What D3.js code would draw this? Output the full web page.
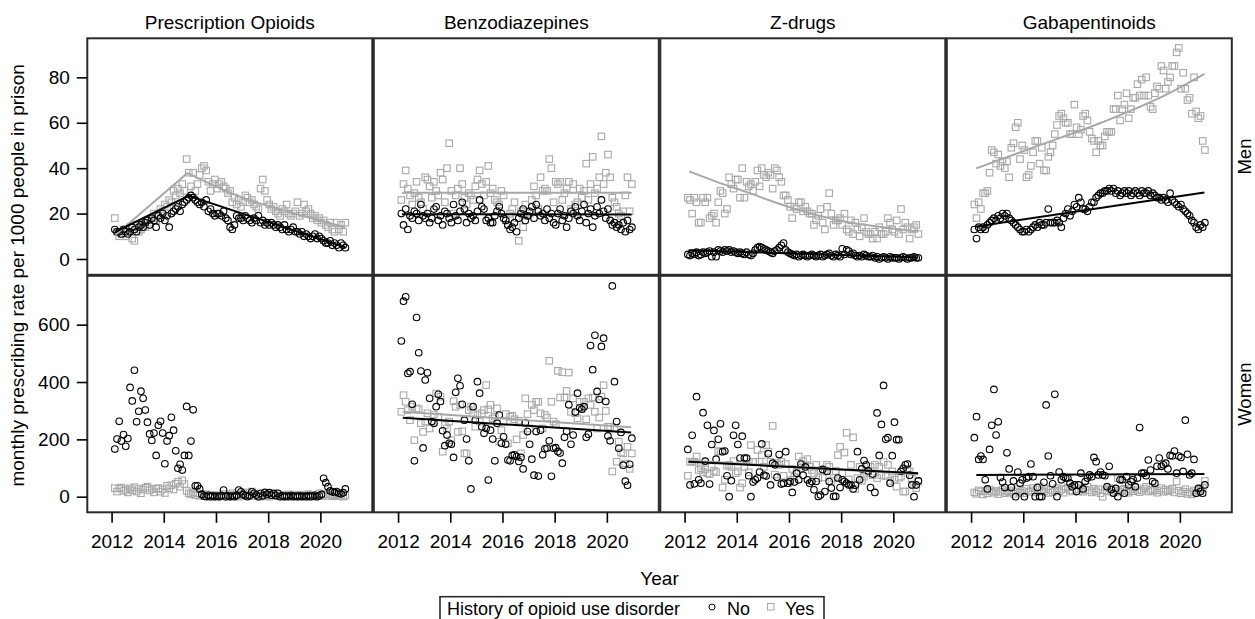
<!DOCTYPE html>
<html>
<head>
<meta charset="utf-8">
<script src="https://cdn.jsdelivr.net/npm/d3@7"></script>
<style>
  body { margin: 0; background: #fff; }
  svg { display: block; }
  text { font-family: "Liberation Sans", Arial, sans-serif; fill: #000; }
</style>
</head>
<body>
<svg width="1255" height="619"></svg>
<script>
// ---- data (monthly rates, Feb 2012 .. Dec 2020)
const drugs = ['Prescription Opioids', 'Benzodiazepines', 'Z-drugs', 'Gabapentinoids'];
const sexes = ['Men', 'Women'];
const firstMonth = 2012.125;
const xTicks = [2012, 2014, 2016, 2018, 2020];
const yTicksMen = [0, 20, 40, 60, 80];
const yTicksWomen = [0, 200, 400, 600];

const opioidsMenNo = [
  13, 12, 12, 11, 13, 12, 11, 12, 14, 13, 12, 14,
  15, 14, 16, 17, 15, 18, 17, 14, 19, 18, 20, 17,
  19, 14, 20, 21, 22, 23, 21, 24, 25, 26, 27, 28,
  27, 26, 25, 24, 25, 23, 26, 21, 22, 20, 19, 20,
  20, 19, 21, 18, 17, 14, 13, 15, 19, 18, 18, 17,
  19, 18, 17, 16, 18, 17, 19, 16, 17, 15, 16, 15,
  16, 15, 14, 15, 14, 13, 15, 13, 12, 13, 14, 12,
  12, 11, 12, 10, 11, 10, 9, 10, 11, 9, 10, 9,
  8, 7, 7, 8, 6, 7, 6, 5, 7, 6, 5];
const opioidsMenYes = [
  18, 12, 10, 11, 13, 10, 12, 14, 9, 8, 15, 12,
  13, 15, 14, 17, 16, 18, 20, 17, 19, 22, 21, 24,
  23, 26, 25, 30, 28, 31, 29, 33, 30, 44, 38, 32,
  38, 30, 33, 37, 40, 41, 39, 34, 30, 33, 35, 31,
  33, 34, 32, 31, 29, 30, 25, 27, 24, 26, 23, 25,
  28, 27, 25, 26, 24, 23, 22, 31, 35, 30, 26, 24,
  22, 23, 21, 20, 19, 22, 21, 24, 20, 19, 20, 21,
  25, 19, 20, 24, 21, 22, 20, 18, 19, 17, 18, 16,
  17, 15, 14, 16, 13, 12, 16, 13, 15, 12, 16];
const benzoMenNo = [
  20, 15, 22, 13, 19, 18, 21, 20, 17, 24, 19, 18,
  20, 16, 18, 22, 23, 17, 19, 15, 21, 20, 18, 16,
  24, 19, 17, 21, 25, 22, 16, 20, 18, 19, 17, 21,
  26, 23, 22, 17, 18, 16, 16, 19, 21, 23, 20, 18,
  17, 15, 13, 14, 16, 12, 18, 20, 22, 17, 19, 21,
  23, 18, 24, 21, 19, 20, 17, 22, 18, 20, 16, 15,
  20, 22, 17, 19, 14, 18, 21, 20, 23, 19, 17, 21,
  24, 16, 20, 22, 14, 19, 23, 20, 26, 21, 18, 22,
  17, 15, 16, 14, 15, 13, 16, 12, 17, 13, 14];
const benzoMenYes = [
  26, 33, 39, 31, 28, 24, 29, 34, 27, 25, 22, 36,
  35, 32, 27, 34, 30, 28, 38, 35, 25, 40, 51, 30,
  20, 28, 31, 40, 33, 27, 24, 29, 28, 26, 32, 35,
  39, 33, 28, 34, 41, 29, 31, 26, 25, 24, 30, 28,
  17, 15, 20, 22, 25, 18, 8, 21, 14, 24, 19, 20,
  26, 32, 28, 22, 36, 30, 31, 30, 44, 40, 25, 34,
  33, 34, 26, 29, 31, 34, 22, 33, 24, 25, 31, 27,
  30, 42, 26, 33, 45, 29, 31, 36, 54, 33, 38, 46,
  36, 27, 25, 23, 20, 19, 21, 28, 36, 21, 33];
const zdrugsMenNo = [
  2, 1.5, 2.5, 2, 3, 1.5, 2, 3, 2.5, 3, 3.5, 1,
  3, 1, 4, 3.5, 3, 4, 3.5, 4, 3, 3.5, 3, 2.5,
  3, 2.5, 2, 3, 2, 1.5, 2.5, 4, 5, 5.5, 5, 4.5,
  4, 3.5, 3, 2.5, 3.5, 4, 5, 6, 7, 4, 3, 2.5,
  2, 1.5, 2, 1, 1.5, 2, 1.5, 1, 1.5, 2, 1.5, 1,
  1.5, 2, 1, 1.5, 2, 2.5, 1.5, 1, 2, 1.5, 1, 4.5,
  2, 4, 3.5, 2, 2.5, 1.5, 1, 1.5, 1, 2, 1.5, 1,
  1, 1.5, 0.5, 1, 0, 0.5, 1, 0.5, 0, 1, 0.5, 0.5,
  0.5, 0, 0.5, 1, 0.5, 0, 0.5, 0.5, 1, 0.5, 0.5];
const zdrugsMenYes = [
  27, 26, 20, 27, 25, 16, 16, 27, 25, 27, 18, 19,
  20, 16, 25, 30, 29, 20, 22, 36, 33, 31, 35, 35,
  27, 40, 27, 34, 32, 33, 30, 34, 39, 32, 40, 37,
  36, 38, 37, 31, 40, 39, 36, 34, 28, 28, 26, 23,
  18, 23, 22, 25, 25, 21, 23, 21, 20, 20, 15, 17,
  19, 22, 16, 13, 23, 29, 20, 15, 17, 17, 18, 15,
  20, 13, 12, 17, 11, 16, 13, 10, 14, 18, 12, 11,
  11, 9, 12, 9, 14, 11, 11, 12, 18, 16, 13, 12,
  17, 11, 22, 13, 16, 14, 9, 13, 14, 15, 11];
const gabaMenNo = [
  13, 9, 14, 13, 14, 13, 15, 16, 17, 18, 17, 19,
  18, 20, 19, 20, 18, 17, 16, 15, 14, 13, 12, 12,
  13, 12, 13, 14, 15, 14, 16, 15, 15, 16, 22, 16,
  16, 16, 17, 16, 14, 18, 20, 22, 19, 21, 24, 23,
  27, 25, 22, 22, 21, 23, 25, 25, 27, 28, 29, 29,
  30, 30, 31, 30, 31, 29, 30, 28, 29, 30, 29, 30,
  28, 29, 30, 29, 28, 30, 29, 29, 30, 28, 29, 28,
  27, 27, 26, 27, 26, 25, 29, 26, 25, 24, 23, 24,
  22, 21, 20, 19, 17, 16, 14, 13, 15, 14, 16];
const gabaMenYes = [
  24, 18, 25, 22, 29, 29, 30, 38, 48, 47, 42, 46,
  41, 43, 40, 43, 36, 49, 51, 58, 60, 44, 50, 48,
  36, 37, 41, 47, 52, 52, 42, 49, 39, 39, 45, 47,
  50, 55, 59, 63, 64, 62, 60, 60, 55, 55, 68, 58,
  55, 57, 63, 64, 61, 56, 53, 52, 47, 52, 50, 50,
  54, 56, 56, 56, 66, 66, 72, 61, 66, 68, 73, 62,
  66, 71, 71, 77, 72, 79, 72, 80, 72, 67, 66, 73,
  76, 75, 85, 83, 75, 78, 80, 85, 85, 91, 93, 75,
  82, 75, 70, 71, 64, 80, 65, 62, 63, 52, 48];

const opioidsWomenNo = [
  166, 201, 263, 194, 217, 176, 203, 381, 334, 441, 261, 298,
  368, 343, 302, 260, 219, 196, 222, 144, 249, 263, 222, 115,
  194, 213, 277, 232, 160, 99, 113, 93, 144, 315, 144, 194,
  303, 38, 38, 27, 8, 2, 0, 5, 0, 3, 0, 2,
  0, 4, 23, 0, 3, 0, 2, 0, 5, 23, 17, 8,
  3, 0, 4, 17, 12, 6, 0, 12, 3, 15, 8, 14,
  5, 10, 4, 12, 0, 3, 0, 2, 0, 4, 0, 2,
  0, 3, 0, 2, 0, 4, 0, 2, 5, 0, 3, 8,
  64, 49, 35, 20, 17, 15, 18, 12, 10, 14, 27];
const opioidsWomenYes = [
  30, 18, 28, 32, 20, 25, 15, 29, 22, 33, 18, 27,
  12, 25, 31, 35, 22, 28, 15, 27, 30, 18, 26, 13,
  38, 29, 40, 25, 45, 52, 35, 57, 44, 20, 12, 8,
  15, 5, 12, 3, 10, 2, 8, 4, 0, 6, 2, 0,
  5, 1, 9, 3, 0, 6, 12, 2, 8, 0, 5, 10,
  4, 15, 7, 18, 2, 9, 4, 0, 6, 2, 8, 0,
  5, 14, 3, 9, 1, 6, 0, 4, 8, 2, 6, 0,
  3, 7, 1, 5, 0, 9, 3, 6, 0, 4, 12, 2,
  7, 10, 3, 8, 1, 5, 9, 2, 6, 0, 4];
const benzoWomenNo = [
  543, 682, 697, 430, 436, 322, 125, 625, 502, 438, 170, 407,
  432, 343, 262, 256, 314, 357, 332, 230, 178, 215, 186, 183,
  137, 364, 413, 387, 322, 267, 201, 125, 27, 314, 267, 401,
  361, 244, 221, 238, 58, 232, 201, 125, 256, 285, 186, 209,
  183, 128, 125, 144, 146, 140, 123, 137, 97, 258, 227, 183,
  131, 75, 227, 72, 232, 146, 167, 169, 195, 71, 169, 171,
  158, 152, 117, 207, 228, 321, 183, 215, 295, 361, 310, 305,
  314, 207, 218, 527, 443, 563, 367, 339, 524, 553, 332, 212,
  195, 735, 401, 262, 169, 224, 110, 54, 40, 113, 204];
const benzoWomenYes = [
  296, 354, 331, 302, 267, 314, 197, 308, 305, 256, 226, 262,
  291, 238, 262, 285, 360, 279, 349, 157, 250, 238, 262, 197,
  333, 314, 226, 320, 228, 151, 151, 302, 314, 291, 244, 285,
  262, 291, 302, 389, 305, 320, 273, 279, 308, 192, 232, 262,
  288, 186, 279, 282, 270, 200, 265, 151, 215, 343, 288, 238,
  320, 302, 331, 331, 291, 238, 285, 276, 474, 331, 262, 253,
  439, 346, 434, 346, 369, 433, 296, 343, 291, 273, 331, 308,
  331, 270, 343, 320, 346, 296, 238, 276, 349, 389, 299, 244,
  244, 88, 238, 122, 192, 154, 151, 116, 174, 97, 151];
const zdrugsWomenNo = [
  165, 41, 214, 45, 349, 59, 47, 293, 124, 249, 44, 182,
  231, 131, 200, 254, 157, 159, 73, 0, 56, 214, 249, 182,
  135, 211, 135, 135, 73, 0, 51, 59, 65, 86, 184, 75,
  72, 150, 41, 117, 111, 68, 147, 44, 47, 157, 47, 53,
  15, 51, 82, 59, 114, 75, 104, 59, 47, 53, 24, 53,
  1, 6, 95, 18, 88, 53, 30, 1, 1, 65, 32, 59,
  53, 47, 41, 41, 27, 40, 157, 59, 97, 126, 111, 90,
  32, 79, 15, 292, 144, 252, 388, 200, 206, 47, 143, 260,
  199, 199, 88, 99, 111, 114, 75, 41, 0, 41, 55];
const zdrugsWomenYes = [
  73, 122, 122, 122, 140, 93, 99, 86, 95, 82, 79, 104,
  90, 86, 159, 157, 32, 59, 108, 111, 104, 124, 82, 88,
  32, 47, 104, 131, 85, 180, 121, 122, 163, 122, 145, 104,
  180, 157, 122, 247, 77, 117, 111, 122, 73, 114, 47, 59,
  97, 70, 88, 140, 100, 124, 111, 131, 104, 93, 82, 111,
  65, 93, 67, 92, 111, 104, 55, 65, 90, 145, 174, 82,
  154, 223, 60, 111, 207, 27, 65, 104, 55, 70, 83, 88,
  104, 75, 111, 65, 104, 75, 121, 72, 111, 55, 88, 59,
  35, 66, 70, 18, 18, 97, 88, 65, 41, 30, 53];
const gabaWomenNo = [
  206, 279, 130, 142, 130, 59, 27, 165, 249, 374, 215, 261,
  67, 51, 32, 153, 97, 32, 55, 0, 86, 47, 59, 0,
  65, 70, 114, 70, 0, 32, 0, 0, 50, 320, 142, 73,
  45, 357, 0, 86, 59, 70, 65, 65, 47, 35, 41, 18,
  41, 82, 27, 53, 65, 76, 70, 137, 122, 76, 86, 76,
  73, 35, 106, 25, 12, 29, 0, 59, 59, 12, 70, 41,
  53, 60, 35, 65, 241, 82, 82, 73, 128, 93, 53, 47,
  106, 135, 106, 111, 117, 97, 144, 142, 159, 82, 142, 137,
  88, 267, 148, 76, 82, 130, 12, 29, 18, 12, 41];
const gabaWomenYes = [
  15, 10, 22, 18, 8, 20, 12, 25, 18, 14, 20, 9,
  17, 24, 12, 19, 15, 22, 10, 18, 26, 14, 20, 12,
  28, 17, 22, 30, 15, 25, 35, 20, 18, 27, 13, 24,
  16, 21, 30, 19, 25, 14, 28, 32, 22, 18, 40, 26,
  20, 30, 17, 24, 35, 22, 15, 28, 19, 26, 12, 0,
  23, 18, 30, 25, 15, 21, 65, 17, 24, 28, 20, 14,
  26, 19, 31, 23, 16, 22, 29, 35, 18, 24, 20, 27,
  14, 22, 30, 17, 25, 19, 23, 28, 15, 53, 21, 12,
  18, 26, 10, 16, 8, 22, 14, 20, 25, 30, 55];

// fitted trend lines, [year, rate]
const opioidsMenNoFit = [[2012.15, 12], [2014.95, 27.8], [2020.95, 5.2]];
const opioidsMenYesFit = [[2012.15, 10.6], [2014.9, 37.8], [2016.4, 29.8], [2017.4, 25.4], [2018.9, 20.4], [2020.95, 14]];
const benzoMenNoFit = [[2012.15, 19.7], [2020.95, 19.6]];
const benzoMenYesFit = [[2012.15, 29.2], [2020.95, 29.2]];
const zdrugsMenNoFit = [[2012.15, 3.9], [2020.95, 0.7]];
const zdrugsMenYesFit = [[2012.18, 38.6], [2013.21, 34.1], [2014.49, 29], [2015.77, 23.8], [2017.05, 19.4], [2018.32, 16.1], [2019.6, 14], [2020.95, 12]];
const gabaMenNoFit = [[2012.2, 14.3], [2020.94, 29.3]];
const gabaMenYesFit = [[2012.2, 39.9], [2014.43, 49.3], [2016.98, 60], [2019.54, 72.7], [2020.94, 81.5]];
const benzoWomenNoFit = [[2012.18, 275], [2020.93, 224]];
const benzoWomenYesFit = [[2012.18, 296], [2020.93, 242]];
const zdrugsWomenNoFit = [[2012.15, 122], [2020.95, 81.5]];
const zdrugsWomenYesFit = [[2012.15, 126], [2020.95, 78]];
const gabaWomenNoFit = [[2012.2, 76], [2020.94, 79]];

const panels = [
  { sex: 'Men', drug: drugs[0], no: opioidsMenNo, yes: opioidsMenYes, noFit: opioidsMenNoFit, yesFit: opioidsMenYesFit },
  { sex: 'Men', drug: drugs[1], no: benzoMenNo, yes: benzoMenYes, noFit: benzoMenNoFit, yesFit: benzoMenYesFit },
  { sex: 'Men', drug: drugs[2], no: zdrugsMenNo, yes: zdrugsMenYes, noFit: zdrugsMenNoFit, yesFit: zdrugsMenYesFit },
  { sex: 'Men', drug: drugs[3], no: gabaMenNo, yes: gabaMenYes, noFit: gabaMenNoFit, yesFit: gabaMenYesFit },
  { sex: 'Women', drug: drugs[0], no: opioidsWomenNo, yes: opioidsWomenYes, noFit: null, yesFit: null },
  { sex: 'Women', drug: drugs[1], no: benzoWomenNo, yes: benzoWomenYes, noFit: benzoWomenNoFit, yesFit: benzoWomenYesFit },
  { sex: 'Women', drug: drugs[2], no: zdrugsWomenNo, yes: zdrugsWomenYes, noFit: zdrugsWomenNoFit, yesFit: zdrugsWomenYesFit },
  { sex: 'Women', drug: drugs[3], no: gabaWomenNo, yes: gabaWomenYes, noFit: gabaWomenNoFit, yesFit: null }
];

// ---- layout
const svg = d3.select('svg');
const plotLeft = 87.3, plotTop = 38.3;
const colStep = 286.5, rowStep = 237.5;
const panelW = 285, panelH = 236.5;
const fontSize = 19;
const grey = '#a8a8a8';

const x = d3.scaleLinear().domain([2011.07, 2021.99]).range([0, panelW]);
const yScale = {
  Men: d3.scaleLinear().domain([-6.96, 97.2]).range([panelH, 0]),
  Women: d3.scaleLinear().domain([-54.4, 770.4]).range([panelH, 0])
};
const yTicks = { Men: yTicksMen, Women: yTicksWomen };
const monthX = i => firstMonth + i / 12;

panels.forEach(p => {
  const c = drugs.indexOf(p.drug);
  const r = sexes.indexOf(p.sex);
  const y = yScale[p.sex];
  const g = svg.append('g')
    .attr('transform', `translate(${plotLeft + c * colStep}, ${plotTop + r * rowStep})`);

  // squares (history of OUD) then circles
  const sq = 6.5;
  g.append('g').selectAll('rect')
    .data(p.yes)
    .join('rect')
    .attr('x', (d, i) => x(monthX(i)) - sq / 2)
    .attr('y', d => y(d) - sq / 2)
    .attr('width', sq)
    .attr('height', sq)
    .attr('fill', 'none')
    .attr('stroke', grey)
    .attr('stroke-width', 1.1);

  g.append('g').selectAll('circle')
    .data(p.no)
    .join('circle')
    .attr('cx', (d, i) => x(monthX(i)))
    .attr('cy', d => y(d))
    .attr('r', 3.3)
    .attr('fill', 'none')
    .attr('stroke', '#000')
    .attr('stroke-width', 1.1);

  const curve = p.drug === drugs[0] ? d3.curveLinear : d3.curveMonotoneX;
  const line = d3.line().x(d => x(d[0])).y(d => y(d[1])).curve(curve);
  if (p.yesFit) g.append('path').attr('d', line(p.yesFit))
    .attr('fill', 'none').attr('stroke', grey).attr('stroke-width', 2);
  if (p.noFit) g.append('path').attr('d', line(p.noFit))
    .attr('fill', 'none').attr('stroke', '#000').attr('stroke-width', 2);

  g.append('rect')
    .attr('width', panelW)
    .attr('height', panelH)
    .attr('fill', 'none')
    .attr('stroke', '#2b2b2b')
    .attr('stroke-width', 2);

  if (c === 0) {
    const ax = g.append('g').call(d3.axisLeft(y).tickValues(yTicks[p.sex]).tickSize(10.5).tickPadding(7));
    ax.select('.domain').remove();
    ax.selectAll('line').attr('stroke', '#000').attr('stroke-width', 1.6);
    ax.selectAll('text').attr('font-size', fontSize).attr('font-family', null);
  }
  if (r === 1) {
    const ax = g.append('g').attr('transform', `translate(0, ${panelH})`)
      .call(d3.axisBottom(x).tickValues(xTicks).tickFormat(d3.format('d')).tickSize(10.5).tickPadding(12));
    ax.select('.domain').remove();
    ax.selectAll('line').attr('stroke', '#000').attr('stroke-width', 1.6);
    ax.selectAll('text').attr('font-size', fontSize).attr('font-family', null);
  }
  if (r === 0) {
    g.append('text')
      .attr('x', panelW / 2).attr('y', -9.8)
      .attr('text-anchor', 'middle')
      .attr('font-size', fontSize)
      .text(p.drug);
  }
  if (c === 3) {
    g.append('text')
      .attr('transform', `translate(${panelW + 19.5}, ${panelH / 2}) rotate(-90)`)
      .attr('text-anchor', 'middle')
      .attr('font-size', 18.5)
      .text(p.sex);
  }
});

// axis titles
const plotRight = plotLeft + 3 * colStep + panelW;
const plotBottom = plotTop + rowStep + panelH;
svg.append('text')
  .attr('x', (plotLeft + plotRight) / 2).attr('y', 584.5)
  .attr('text-anchor', 'middle')
  .attr('font-size', fontSize)
  .text('Year');
svg.append('text')
  .attr('transform', `translate(23.5, ${(plotTop + plotBottom) / 2}) rotate(-90)`)
  .attr('text-anchor', 'middle')
  .attr('font-size', fontSize)
  .text('monthly prescribing rate per 1000 people in prison');

//---- legend
const lg = svg.append('g');
lg.append('rect')
  .attr('x', 440).attr('y', 596.7).attr('width', 384).attr('height', 40)
  .attr('fill', 'none').attr('stroke', '#2b2b2b').attr('stroke-width', 1.6);
lg.append('text').attr('x', 447).attr('y', 615).attr('font-size', 18).text('History of opioid use disorder');
lg.append('circle').attr('cx', 712).attr('cy', 607).attr('r', 3)
  .attr('fill', 'none').attr('stroke', '#000');
lg.append('text').attr('x', 727).attr('y', 615).attr('font-size', 18).text('No');
lg.append('rect').attr('x', 767.5).attr('y', 603.5).attr('width', 6.5).attr('height', 6.5)
  .attr('fill', 'none').attr('stroke', grey);
lg.append('text').attr('x', 785).attr('y', 615).attr('font-size', 18).text('Yes');
</script>
</body>
</html>
